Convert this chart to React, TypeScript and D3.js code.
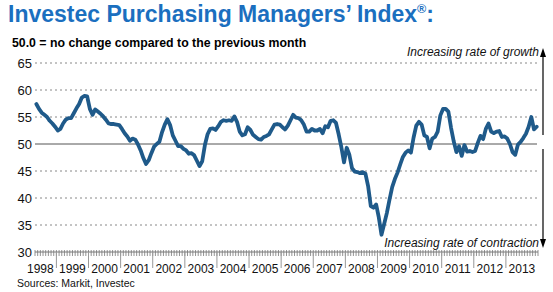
import React from "react";
import * as d3 from "d3";

const pmi1998 = [57.4, 56.5, 55.8, 55.4, 55.0, 54.3, 53.8, 53.2];
const pmi1999 = [52.5, 52.8, 53.8, 54.5, 54.8, 54.8, 55.7, 56.6, 57.4, 58.6, 58.9, 58.8];
const pmi2000 = [56.5, 55.4, 56.4, 56.0, 55.6, 55.1, 54.5, 53.8, 53.7, 53.7, 53.6, 53.5];
const pmi2001 = [52.8, 52.0, 51.4, 50.6, 51.0, 50.8, 49.9, 48.8, 47.4, 46.3, 47.0, 48.3];
const pmi2002 = [49.5, 50.0, 50.4, 52.2, 53.6, 54.6, 53.5, 51.6, 50.6, 49.6, 49.6, 49.1];
const pmi2003 = [48.8, 48.2, 48.3, 47.9, 46.9, 45.9, 46.8, 49.8, 51.8, 52.8, 52.9, 52.6];
const pmi2004 = [53.3, 54.1, 54.4, 54.3, 54.4, 54.3, 55.1, 54.1, 52.3, 51.6, 51.8, 53.1];
const pmi2005 = [52.6, 51.7, 51.3, 50.9, 50.8, 51.3, 51.5, 51.8, 52.7, 53.6, 53.7, 53.6];
const pmi2006 = [53.1, 52.7, 53.4, 54.4, 55.4, 54.9, 54.8, 54.4, 53.6, 52.3, 52.3, 52.8];
const pmi2007 = [52.5, 52.5, 52.8, 52.0, 53.3, 53.1, 54.3, 54.4, 53.9, 51.8, 49.4, 46.6];
const pmi2008 = [49.3, 48.0, 45.5, 44.9, 44.8, 44.6, 44.8, 44.5, 42.2, 38.5, 38.2, 38.8];
const pmi2009 = [36.4, 33.2, 35.2, 37.2, 39.7, 42.0, 43.5, 44.7, 46.2, 47.6, 48.4, 48.8];
const pmi2010 = [48.4, 51.2, 53.4, 54.1, 53.6, 51.6, 51.3, 49.2, 51.0, 51.3, 52.3, 55.3];
const pmi2011 = [56.5, 56.5, 56.0, 53.0, 50.5, 48.5, 49.6, 47.8, 49.8, 48.6, 48.7, 48.5];
const pmi2012 = [48.7, 50.2, 51.5, 50.9, 52.8, 53.8, 52.3, 52.0, 52.3, 52.4, 51.3, 51.4];
const pmi2013 = [51.0, 50.0, 48.5, 48.0, 49.9, 50.4, 51.1, 51.9, 53.2, 55.0, 52.7, 53.2];

const years = [1998, 1999, 2000, 2001, 2002, 2003, 2004, 2005, 2006, 2007, 2008, 2009, 2010, 2011, 2012, 2013];
const yTicks = [30, 35, 40, 45, 50, 55, 60, 65];
const startMonth = 4; // May 1998

const series = [
  ...pmi1998, ...pmi1999, ...pmi2000, ...pmi2001, ...pmi2002, ...pmi2003, ...pmi2004, ...pmi2005,
  ...pmi2006, ...pmi2007, ...pmi2008, ...pmi2009, ...pmi2010, ...pmi2011, ...pmi2012, ...pmi2013,
];

const W = 553;
const H = 292;
const FONT = "'Liberation Sans', Arial, sans-serif";

export default function App() {
  const N = series.length;
  const x = d3.scaleLinear().domain([0, N]).range([35, 538]);
  const y = d3.scaleLinear().domain([30, 65]).range([252, 63]);
  const line = d3
    .line<number>()
    .x((_, i) => x(i + 0.5))
    .y((d) => y(d))
    .curve(d3.curveLinear);

  const yearStartIdx = (yr: number) => (yr - 1998) * 12 - startMonth;
  const monthTicks = d3.range(0, N + 1);
  const yearTicks = years.map(yearStartIdx).filter((v) => v > 0 && v < N);
  const y0 = y(30);
  const y50 = y(50);
  const ax = 543;

  return (
    <svg
      width={W}
      height={H}
      style={{ position: "absolute", left: 0, top: 0, background: "#fff" }}
      fontFamily={FONT}
    >
      <rect width={W} height={H} fill="#fff" />
      <text x={8} y={22} fontSize={23} fontWeight="bold" fill="#1b6fbf">
        Investec Purchasing Managers’ Index
        <tspan fontSize={12.5} dy={-9}>®</tspan>
        <tspan dy={9}>:</tspan>
      </text>
      <text x={12} y={47} fontSize={12.3} fontWeight="bold" fill="#000">
        50.0 = no change compared to the previous month
      </text>

      {yTicks.filter((t) => t !== 30).map((t) => (
        <line
          key={"g" + t}
          x1={35}
          x2={537}
          y1={y(t)}
          y2={y(t)}
          stroke={t === 50 ? "#555" : "#888"}
          strokeWidth={1}
          strokeDasharray={t === 50 ? undefined : "2,3"}
        />
      ))}
      {yTicks.map((t) => (
        <text key={"yl" + t} x={32} y={y(t) + 4.5} fontSize={13} textAnchor="end" fill="#111">
          {t}
        </text>
      ))}

      <line x1={35} x2={538} y1={y0} y2={y0} stroke="#777" strokeWidth={1} />
      {monthTicks.map((m) => (
        <line key={"m" + m} x1={x(m)} x2={x(m)} y1={y0 - 2} y2={y0 + 4} stroke="#777" strokeWidth={0.8} />
      ))}
      {yearTicks.map((m) => (
        <line key={"yt" + m} x1={x(m)} x2={x(m)} y1={y0} y2={y0 + 16} stroke="#999" strokeWidth={1} />
      ))}
      {years.map((yr) => (
        <text
          key={"yr" + yr}
          x={x(yearStartIdx(yr) + 6)}
          y={273}
          fontSize={12}
          textAnchor="middle"
          fill="#111"
        >
          {yr}
        </text>
      ))}

      <path d={line(series) || ""} fill="none" stroke="#1f5a8a" strokeWidth={3.8} strokeLinejoin="round" strokeLinecap="round" />

      <line x1={ax} x2={ax} y1={y50 - 9} y2={55} stroke="#000" strokeWidth={1.2} />
      <path d={`M${ax - 3},${57} L${ax},${48} L${ax + 3},${57} Z`} fill="#000" />
      <line x1={ax} x2={ax} y1={y50 + 5} y2={240} stroke="#000" strokeWidth={1.2} />
      <path d={`M${ax - 3},${239} L${ax},${248} L${ax + 3},${239} Z`} fill="#000" />

      <text x={539} y={56} fontSize={12} fontStyle="italic" textAnchor="end" fill="#111">
        Increasing rate of growth
      </text>
      <text x={539} y={247} fontSize={12} fontStyle="italic" textAnchor="end" fill="#111">
        Increasing rate of contraction
      </text>

      <text x={17} y={287} fontSize={10.5} fill="#111">
        Sources: Markit, Investec
      </text>
    </svg>
  );
}
